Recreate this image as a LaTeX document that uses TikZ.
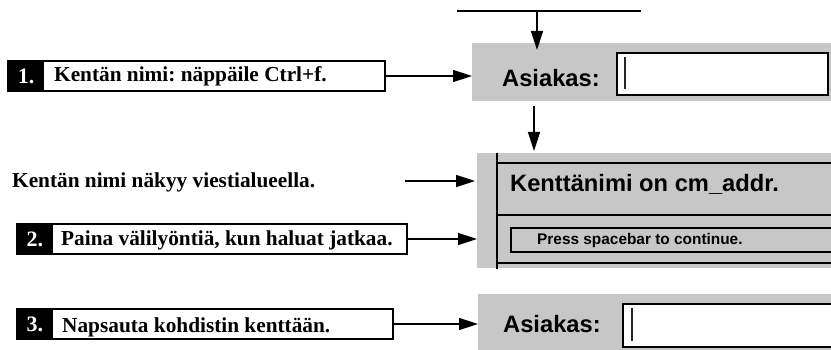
\documentclass[tikz,border=0pt]{standalone}
\usepackage{fontspec}
\setmainfont{Liberation Serif}
\newfontfamily\uisans{Liberation Sans}
\usetikzlibrary{arrows.meta}
\definecolor{panelgrey}{gray}{0.78}
\frenchspacing
\begin{document}
\begin{tikzpicture}[x=1pt,y=-1pt,
  panel/.style={fill=panelgrey, draw=none, inner sep=0pt, outer sep=0pt, anchor=north west},
  numbox/.style={fill=black, draw=black, line width=1pt, text=white, font=\fontsize{22}{24}\selectfont\bfseries, inner sep=0pt, minimum width=35pt, minimum height=30pt, anchor=north west},
  stepbox/.style={draw=black, line width=1.6pt, fill=white, inner sep=0pt, outer sep=0pt, anchor=north west, minimum height=30pt},
  steptext/.style={font=\fontsize{21.3}{24}\selectfont\bfseries, anchor=base west, inner sep=0pt},
  uitext/.style={font=\uisans\bfseries\fontsize{23.7}{26}\selectfont, anchor=base west, inner sep=0pt},
  smalltext/.style={font=\uisans\bfseries\fontsize{15.4}{18}\selectfont, anchor=base west, inner sep=0pt},
  field/.style={draw=black, line width=1.6pt, fill=white, inner sep=0pt, anchor=north west},
  rule/.style={line width=1.5pt},
  cursor/.style={line width=2pt, draw=black!85},
  arr/.style={line width=1.5pt, -{Triangle[length=19pt,width=12pt]}}
]
\useasboundingbox (0,0) rectangle (831,350);
\clip (0,0) rectangle (831,350);

% ---------- right-hand panels ----------
\node[panel, minimum width=365pt, minimum height=58pt] (p1) at (472,43) {};
\node[field, minimum width=211pt, minimum height=42pt] (f1) at (616,52) {};
\draw[cursor] (625,57) -- (625,89);
\node[uitext] (a1) at (502,87) {Asiakas:};

\node[panel, minimum width=360pt, minimum height=115pt] (p2) at (477,153) {};
\draw[rule] (497,153) -- (497,269);
\draw[rule] (497,163) -- (835,163);
\draw[rule] (497,215) -- (835,215);
\draw[rule] (497,263) -- (835,263);
\node[uitext] (msg) at (510,192) {Kenttänimi on cm\_addr.};
\node[draw=black, line width=2pt, inner sep=0pt, anchor=north west, minimum width=330pt, minimum height=24pt] (pb) at (510,227) {};
\node[smalltext] (press) at (537,244) {Press spacebar to continue.};

\node[panel, minimum width=360pt, minimum height=60pt] (p3) at (478,294) {};
\node[field, minimum width=220pt, minimum height=43pt] (f3) at (622,303) {};
\draw[cursor] (632,308) -- (632,341);
\node[uitext] (a3) at (503,332) {Asiakas:};

% ---------- left-hand steps ----------
\node[stepbox, minimum width=377pt] (b1) at (8,61) {};
\node[numbox] (n1) at (8,61) {1.};
\node[steptext] (t1) at (54,82) {Kentän nimi: näppäile Ctrl+f.};

\node[steptext] (note) at (12,188) {Kentän nimi näkyy viestialueella.};

\node[stepbox, minimum width=390pt] (b2) at (17,224) {};
\node[numbox] (n2) at (17,224) {2.};
\node[steptext] (t2) at (61,246) {Paina välilyöntiä, kun haluat jatkaa.};

\node[stepbox, minimum width=376pt] (b3) at (17,309) {};
\node[numbox] (n3) at (17,309) {3.};
\node[steptext] (t3) at (62,332) {Napsauta kohdistin kenttään.};

% ---------- connectors ----------
\coordinate (tl) at (457,11);
\coordinate (tr) at (641,11);
\coordinate (tm) at (537,11);
\coordinate (tt) at (537,50);
\draw[rule] (tl) -- (tr);
\draw[arr] (tm) -- (tt);

\coordinate (ds) at (534,106);
\coordinate (dt) at (534,151);
\draw[arr] (ds) -- (dt);

\draw[arr] (b1.east) -- (b1.east -| p1.west);

\coordinate (ns) at (405,181);
\coordinate (nt) at (475,181);
\draw[arr] (ns) -- (nt);

\draw[arr] (b2.east) -- (b2.east -| p2.west);
\draw[arr] (b3.east) -- (b3.east -| p3.west);
\end{tikzpicture}
\end{document}
